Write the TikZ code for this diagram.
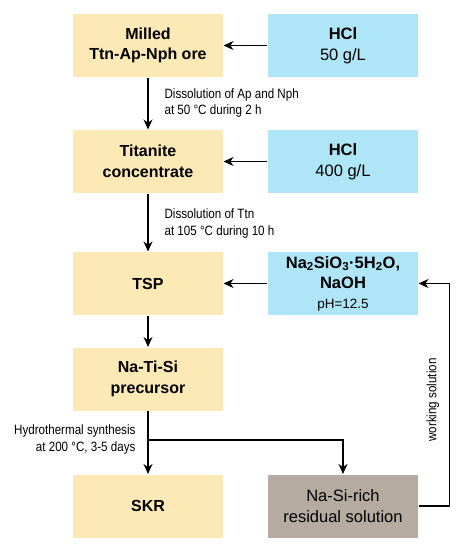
\documentclass[tikz,border=0pt]{standalone}
\usepackage{fontspec}
\setmainfont{Liberation Sans}
\newfontfamily\narrowfont[FakeStretch=0.86]{Liberation Sans}
\usetikzlibrary{arrows.meta, positioning}

\definecolor{oreyellow}{RGB}{252,233,182}
\definecolor{acidblue}{RGB}{174,230,247}
\definecolor{residgray}{RGB}{182,171,161}

\begin{document}
\begin{tikzpicture}[x=1pt, y=-1pt, >={Stealth[length=10pt, width=9pt]}, line width=1.1pt,
      box/.style={minimum width=150pt, minimum height=63pt, inner sep=2pt,
                  align=center, font=\fontsize{16.5}{20.5}\selectfont},
      ore/.style={box, fill=oreyellow, font=\fontsize{16}{20.5}\selectfont\bfseries},
      acid/.style={box, fill=acidblue},
      resid/.style={box, fill=residgray},
      note/.style={font=\narrowfont\fontsize{13.5}{16.7}\selectfont, inner sep=0pt}]

    \useasboundingbox[fill=white] (0,0) rectangle (473,550);

    % Main column on the left, reagents on the right
    \node[ore]  (ore)   at (148,45.5)  {Milled\\Ttn-Ap-Nph ore};
    \node[acid] (hcl1)  at (343,45.5)  {\textbf{HCl}\\50 g/L};
    \node[ore]  (conc)  at (148,161.5) {Titanite\\concentrate};
    \node[acid] (hcl2)  at (343,161.5) {\textbf{HCl}\\400 g/L};
    \node[ore]  (tsp)   at (148,283.5) {TSP};
    \node[acid] (naoh)  at (343,283.5) {\textbf{Na\textsubscript{2}SiO\textsubscript{3}·5H\textsubscript{2}O,}\\
                                        \textbf{NaOH}\\[-1pt]{\fontsize{13.5}{16}\selectfont pH=12.5}};
    \node[ore]  (prec)  at (148,379)   {Na-Ti-Si\\precursor};
    \node[ore]  (skr)   at (148,506)   {SKR};
    \node[resid] (resid) at (343,506)  {Na-Si-rich\\residual solution};

    % Reagents into the column
    \draw[->] (hcl1) -- (ore);
    \draw[->] (hcl2) -- (conc);
    \draw[->] (naoh) -- (tsp);

    % Down the column
    \draw[->] (ore) -- (conc);
    \node[note, anchor=west, align=left] (leach1) at (164,103) {Dissolution of Ap and Nph\\at 50 °C during 2 h};
    \draw[->] (conc) -- (tsp);
    \node[note, anchor=west, align=left] (leach2) at (164,223.5) {Dissolution of Ttn\\at 105 °C during 10 h};
    \draw[->] (tsp) -- (prec);
    \draw[->] (prec) -- (skr);
    \node[note, anchor=east, align=right] (synth) at (136,439.5) {Hydrothermal synthesis\\at 200 °C, 3-5 days};

    % Branch to the residual solution
    \coordinate (split) at (148,440);
    \draw[->] (split) -| (resid);

    % Recycling of the working solution
    \draw[->] (resid.east) -- ++(31,0) |- (naoh.east);
    \node[note, rotate=90] (work) at (433,400) {working solution};

\end{tikzpicture}
\end{document}
